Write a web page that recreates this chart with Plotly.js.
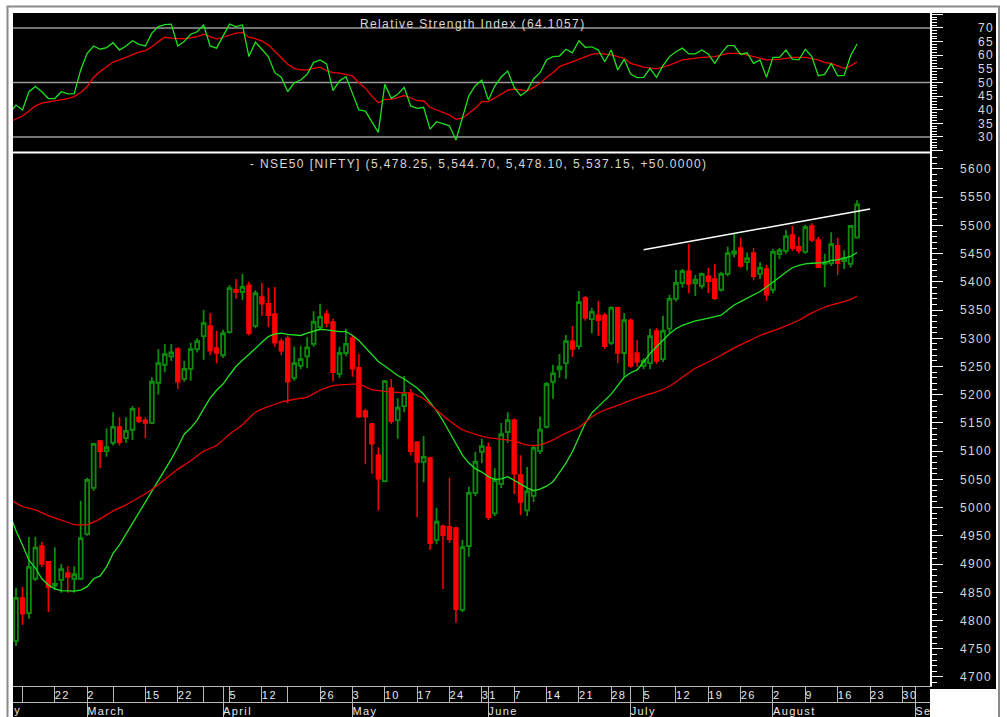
<!DOCTYPE html>
<html><head><meta charset="utf-8">
<script src="https://cdn.plot.ly/plotly-3.0.1.min.js"></script>
<style>
html,body{margin:0;padding:0;background:#fff;}
#chart{width:1007px;height:717px;}
.main-svg text{letter-spacing:1.4px;}
</style></head><body><div id="chart"></div>
<script>
// ---------- DATA ----------
const opens  = [4764,4840,4813,4874,4932,4904,4862,4872,4884,4874,4874,4953,5035,5118,5100,5115,5143,5123,5138,5160,5155,5150,5221,5253,5268,5281,5228,5246,5281,5304,5322,5283,5270,5311,5386,5382,5394,5322,5373,5361,5343,5295,5300,5230,5251,5268,5290,5320,5343,5329,5237,5274,5300,5248,5171,5148,5093,5047,5212,5155,5180,5203,5116,5081,5088,4943,4967,4966,4964,4819,4932,5026,5099,5107,4990,5042,5134,5155,5058,4995,5021,5100,5143,5223,5245,5256,5295,5286,5372,5334,5341,5341,5292,5354,5274,5332,5274,5251,5256,5313,5263,5317,5370,5398,5419,5398,5393,5410,5405,5386,5414,5450,5460,5435,5451,5414,5423,5386,5449,5455,5483,5462,5453,5499,5474,5432,5433,5464,5437,5432,5478.25];
const highs  = [4858,4860,4948,4948,4939,4905,4930,4900,4896,4896,5012,5053,5115,5120,5140,5169,5160,5160,5180,5178,5160,5231,5281,5290,5290,5284,5260,5292,5300,5350,5345,5313,5315,5394,5405,5414,5400,5385,5398,5390,5391,5300,5305,5285,5287,5302,5348,5361,5350,5335,5285,5317,5305,5272,5175,5150,5107,5226,5228,5194,5233,5210,5118,5127,5090,5000,4970,5053,4966,4943,5037,5099,5122,5115,5070,5150,5169,5158,5093,5072,5110,5161,5223,5253,5272,5306,5322,5384,5375,5354,5366,5345,5357,5356,5345,5335,5297,5265,5317,5318,5340,5377,5421,5423,5467,5412,5416,5425,5432,5418,5462,5487,5478,5452,5460,5435,5430,5458,5460,5492,5499,5480,5501,5504,5480,5450,5488,5478,5456,5500,5544.70];
const lows   = [4755,4792,4803,4870,4895,4815,4854,4849,4849,4849,4872,4950,5030,5070,5090,5110,5110,5115,5120,5150,5123,5148,5200,5240,5260,5210,5223,5225,5275,5262,5270,5256,5265,5308,5370,5368,5305,5318,5340,5320,5285,5270,5185,5225,5245,5247,5285,5315,5320,5223,5230,5268,5232,5159,5077,5060,4995,5045,5148,5122,5169,5093,4983,5045,4925,4935,4856,4938,4796,4815,4913,5020,5079,4978,4985,5035,5115,5024,4987,4985,5010,5095,5140,5193,5230,5228,5267,5280,5331,5309,5304,5281,5288,5256,5231,5248,5249,5245,5245,5255,5258,5310,5365,5390,5380,5375,5388,5380,5368,5383,5410,5443,5425,5420,5403,5405,5366,5380,5440,5450,5455,5450,5450,5470,5424,5391,5428,5412,5423,5425,5478.10];
const closes = [4840,4812,4895,4929,4900,4859,4865,4891,4877,4882,4946,5049,5113,5100,5107,5143,5116,5136,5175,5153,5150,5223,5256,5272,5275,5223,5246,5281,5295,5327,5278,5274,5309,5389,5382,5391,5309,5380,5361,5341,5292,5278,5223,5256,5263,5284,5329,5338,5327,5240,5274,5290,5246,5161,5161,5113,5051,5224,5153,5177,5201,5100,5081,5090,4937,4975,4951,4944,4820,4930,5026,5081,5109,4983,5049,5130,5155,5060,5010,5029,5106,5138,5219,5238,5250,5295,5281,5364,5336,5347,5332,5286,5354,5274,5332,5251,5258,5260,5304,5260,5313,5370,5398,5419,5396,5404,5414,5401,5371,5414,5451,5454,5428,5442,5410,5425,5377,5453,5456,5481,5460,5455,5497,5474,5426,5435,5467,5433,5442,5499,5537.15];

// 20-day average (green) from day -1 to the last day
const maFastStart = -1;
const maFast = [4990,4959,4934,4907,4893,4874,4863,4856,4853,4852,4852,4854,4860,4874,4879,4895,4919,4934,4953,4972,4991,5008,5028,5048,5067,5086,5107,5130,5141,5155,5175,5194,5208,5219,5235,5250,5261,5271,5282,5293,5303,5308,5309,5307,5306,5305,5309,5313,5316,5315,5313,5312,5312,5305,5296,5283,5270,5259,5251,5243,5234,5228,5220,5212,5201,5186,5172,5154,5134,5112,5093,5079,5069,5063,5055,5050,5051,5055,5048,5042,5035,5030,5033,5038,5046,5062,5079,5099,5123,5150,5168,5179,5190,5201,5216,5231,5239,5244,5258,5273,5285,5297,5308,5317,5323,5327,5331,5333,5336,5338,5341,5350,5359,5365,5371,5377,5383,5391,5399,5408,5417,5425,5429,5432,5433,5434,5434,5438,5439,5442,5445,5452];

// 50-day average (red), read at these days
const maSlowDays = [-1,1,3,5,7,9,11,13,15,17,19,21,23,25,27,29,31,33,35,37,39,41,43,45,47,49,51,53,55,57,59,61,63,65,67,69,71,73,75,77,79,81,83,85,87,89,91,93,95,97,99,101,103,105,107,109,111,113,115,117,119,121,123,125,127,129,130];
const maSlow = [5015,5002,4996,4986,4978,4970,4970,4980,4994,5005,5018,5032,5050,5068,5083,5100,5110,5130,5147,5169,5179,5187,5192,5196,5208,5216,5218,5219,5209,5206,5204,5203,5193,5173,5154,5138,5130,5124,5121,5118,5111,5111,5120,5132,5142,5161,5173,5181,5190,5198,5205,5215,5231,5247,5258,5270,5283,5294,5305,5313,5322,5332,5345,5355,5362,5369,5375];

// RSI (green) from day -1 to the last day
const rsiStart = -1;
const rsi = [38.7,41.7,39.9,46.6,48.5,46.6,44.1,44.1,46.6,45.8,45.9,54.6,60.7,63.4,62.2,62.8,64.6,61.9,63.4,65.3,64.0,63.4,68.1,70.5,71.2,71.4,63.4,65.0,67.7,68.6,71.1,63.4,62.6,66.8,71.4,70.5,71.1,59.5,64.8,62.2,59.5,53.6,51.9,46.6,49.9,50.9,53.0,57.4,58.3,56.8,47.0,50.6,52.1,46.0,39.9,39.5,35.6,31.7,49.3,44.2,45.7,48.2,41.4,40.5,40.9,32.9,35.6,34.8,34.1,28.9,36.9,45.2,48.8,50.9,43.6,48.7,52.0,54.2,48.2,45.2,46.9,51.3,53.6,58.3,59.5,59.7,62.2,60.9,65.3,62.9,63.1,61.9,57.6,61.9,54.6,58.5,53.1,51.8,51.9,55.2,51.9,56.2,59.5,61.3,62.6,60.5,60.5,61.9,60.5,57.0,60.7,63.5,63.5,60.3,60.9,57.0,58.3,51.9,59.2,59.2,61.9,58.6,58.3,62.2,59.5,52.5,53.0,57.0,52.4,52.6,59.8,64.1];

// RSI signal (red), read at these days
const rsiSigDays = [-1,1,2,3,4,5,6,7,8,9,10,11,12,13,14,15,16,17,18,19,20,21,22,23,24,26,27,28,29,30,31,32,33,34,35,36,37,38,39,40,41,42,43,44,45,46,47,48,49,50,52,53,54,55,56,57,58,59,60,61,62,63,64,65,66,67,68,69,70,71,72,73,75,76,77,78,79,80,81,82,83,84,87,89,90,92,94,95,97,99,101,103,106,108,110,112,114,116,118,120,122,124,125,126,127,128,129,130];
const rsiSig = [35.5,37.7,39.5,41.4,42.4,42.8,43.2,43.8,44.1,44.8,46.3,48.5,51.9,54.0,55.8,57.5,58.3,59.2,60.3,61.1,61.7,63.1,65.0,66.6,66.3,66.0,66.4,66.8,67.7,66.8,65.9,66.6,67.4,68.1,68.4,66.6,66.1,65.2,63.8,61.6,59.1,56.7,55.2,54.6,54.6,55.2,55.6,54.3,53.6,53.4,52.4,49.9,47.9,45.0,42.6,43.8,43.8,44.4,45.2,44.4,43.3,43.2,40.9,39.9,38.9,38.1,36.5,36.9,38.7,40.5,43.0,43.0,45.7,47.2,47.6,47.2,46.9,48.2,49.7,51.8,53.6,55.8,58.5,60.3,60.7,60.1,58.9,57.0,55.6,55.0,56.4,58.3,59.2,59.5,60.7,60.7,59.5,58.3,58.5,59.2,59.2,58.3,57.3,57.0,56.1,55.2,56.1,57.6];
const rsiLevels = [30, 50, 70];

// white trend line
const trendDays = [97, 132];
const trendPrices = [5457, 5529];

// date axis: week ticks and month starts (trading-day positions)
const weekDays = [1,6,11,15,20,25,29,32,33,38,42,47,52,57,62,67,72,73,77,82,87,92,95,97,102,107,112,117,122,127,132,137,139];
const weekLabels = ['','22','2','','15','22','','','5','12','','26','3','10','17','24','31','','7','14','21','28','','5','12','19','26','2','9','16','23','30',''];
const monthDays = [11,32,52,73,95,117,139];
const monthLabels = ['March','April','May','June','July','August','Se'];

const priceTicks = [4700,4750,4800,4850,4900,4950,5000,5050,5100,5150,5200,5250,5300,5350,5400,5450,5500,5550,5600];
const rsiTicks = [25,30,35,40,45,50,55,60,65,70,75];
const rsiTickText = ['','30','35','40','45','50','55','60','65','70',''];

const rsiTitle = 'Relative Strength Index (64.1057)';
const priceTitle = '- NSE50 [NIFTY] (5,478.25, 5,544.70, 5,478.10, 5,537.15, +50.0000)';

// ---------- LAYOUT HELPERS (pixel geometry) ----------
const L = 13, R = 930, T = 13, B = 702;
const px = x => (x - L) / (R - L);
const py = y => (B - y) / (B - T);
const xRange = [-0.464, 141.27];

const days = opens.map((_, i) => i);
const seq = (start, n) => Array.from({length: n}, (_, i) => start + i);

const FONT = 'Liberation Sans, Arial, sans-serif';
const tickFont = {family: FONT, size: 12, color: '#d6d6d6'};
const dateFont = {family: FONT, size: 11, color: '#e8e8e8'};

const traces = [
  {type: 'candlestick', x: days, open: opens, high: highs, low: lows, close: closes,
   xaxis: 'x', yaxis: 'y', hoverinfo: 'skip', whiskerwidth: 0,
   increasing: {line: {color: '#0b8c0b', width: 1.8}, fillcolor: 'rgba(0,0,0,0)'},
   decreasing: {line: {color: '#ff0000', width: 1.5}, fillcolor: '#ff0000'}},
  {type: 'scatter', mode: 'lines', x: seq(maFastStart, maFast.length), y: maFast,
   xaxis: 'x', yaxis: 'y', line: {color: '#22e022', width: 1.3}, hoverinfo: 'skip'},
  {type: 'scatter', mode: 'lines', x: maSlowDays, y: maSlow,
   xaxis: 'x', yaxis: 'y', line: {color: '#e80000', width: 1.3, shape: 'spline', smoothing: 0.6}, hoverinfo: 'skip'},
  {type: 'scatter', mode: 'lines', x: trendDays, y: trendPrices,
   xaxis: 'x', yaxis: 'y', line: {color: '#ffffff', width: 1.5}, hoverinfo: 'skip'},
  {type: 'scatter', mode: 'lines', x: rsiSigDays, y: rsiSig,
   xaxis: 'x2', yaxis: 'y2', line: {color: '#ee0000', width: 1.3}, hoverinfo: 'skip'},
  {type: 'scatter', mode: 'lines', x: seq(rsiStart, rsi.length), y: rsi,
   xaxis: 'x2', yaxis: 'y2', line: {color: '#1ee01e', width: 1.3}, hoverinfo: 'skip'}
];
// empty carriers so the date-label axes get drawn
['x3', 'x4', 'x5'].forEach(ax => traces.push({type: 'scatter', mode: 'markers', x: [null], y: [null],
  xaxis: ax, yaxis: 'y', hoverinfo: 'skip', marker: {opacity: 0}}));

const baseX = {range: xRange, autorange: false, showgrid: false, zeroline: false, fixedrange: true};

const shapes = [
  // outer frame
  {type: 'rect', xref: 'paper', yref: 'paper', x0: px(7.5), x1: px(999), y0: py(740), y1: py(6.5),
   line: {color: '#8a8a8a', width: 2}, fillcolor: 'rgba(0,0,0,0)', layer: 'below'},
  // black panel + date rows
  {type: 'rect', xref: 'paper', yref: 'paper', x0: 0, x1: 1, y0: py(717), y1: 1,
   line: {width: 0}, fillcolor: '#000', layer: 'below'},
  // black axis column
  {type: 'rect', xref: 'paper', yref: 'paper', x0: 1, x1: px(996), y0: py(689), y1: 1,
   line: {width: 0}, fillcolor: '#000', layer: 'below'},
  // separator between RSI and price panels
  {type: 'line', xref: 'paper', yref: 'paper', x0: 0, x1: 1, y0: py(152.5), y1: py(152.5),
   line: {color: '#ffffff', width: 2}}
].concat(rsiLevels.map(v => ({type: 'line', xref: 'paper', yref: 'y2', x0: 0, x1: 1, y0: v, y1: v,
   line: {color: '#9a9a9a', width: 1.5}, layer: 'below'})));

const layout = {
  width: 1007, height: 717,
  margin: {l: L, r: 1007 - R, t: T, b: 717 - B, pad: 0},
  paper_bgcolor: '#ffffff', plot_bgcolor: '#000000',
  showlegend: false,
  boxgap: 0.15,
  xaxis: Object.assign({}, baseX, {domain: [0, 1], anchor: 'y',
    showline: true, linecolor: '#b8b8b8', linewidth: 1,
    ticks: 'outside', ticklen: 16, tickwidth: 1, tickcolor: '#b8b8b8',
    tickmode: 'array', tickvals: weekDays, showticklabels: false,
    rangeslider: {visible: false}}),
  xaxis2: Object.assign({}, baseX, {domain: [0, 1], anchor: 'y2', matches: 'x',
    showline: false, ticks: '', showticklabels: false}),
  xaxis3: Object.assign({}, baseX, {overlaying: 'x', anchor: 'y', side: 'bottom',
    showline: false, ticks: '', tickmode: 'array', tickvals: weekDays, ticktext: weekLabels,
    ticklabelposition: 'outside right', tickfont: dateFont, ticklabelstandoff: 1}),
  xaxis4: Object.assign({}, baseX, {overlaying: 'x', anchor: 'free', position: 0, side: 'bottom',
    showline: true, linecolor: '#b8b8b8', linewidth: 1,
    ticks: 'outside', ticklen: 16, tickwidth: 1, tickcolor: '#b8b8b8',
    tickmode: 'array', tickvals: monthDays, showticklabels: false}),
  xaxis5: Object.assign({}, baseX, {overlaying: 'x', anchor: 'free', position: 0, side: 'bottom',
    showline: false, ticks: '', tickmode: 'array', tickvals: monthDays, ticktext: monthLabels,
    ticklabelposition: 'outside right', tickfont: dateFont, ticklabelstandoff: 1}),
  yaxis: {domain: [py(686), py(153)], anchor: 'x', side: 'right', range: [4684, 5628.3],
    showgrid: false, zeroline: false, fixedrange: true,
    showline: true, linecolor: '#ffffff', linewidth: 1.5,
    tickmode: 'array', tickvals: priceTicks,
    ticks: 'outside', ticklen: 11, tickwidth: 1, tickcolor: '#ffffff',
    minor: {ticks: 'outside', ticklen: 5, tickwidth: 1, tickcolor: '#ffffff', dtick: 10, tick0: 0, showgrid: false},
    tickfont: tickFont, ticklabelstandoff: 15},
  yaxis2: {domain: [py(152.5), 1], anchor: 'x2', side: 'right', range: [24.3, 75.5],
    showgrid: false, zeroline: false, fixedrange: true,
    showline: true, linecolor: '#ffffff', linewidth: 1.5,
    tickmode: 'array', tickvals: rsiTicks, ticktext: rsiTickText,
    ticks: 'outside', ticklen: 11, tickwidth: 1, tickcolor: '#ffffff',
    minor: {ticks: 'outside', ticklen: 5, tickwidth: 1, tickcolor: '#ffffff', dtick: 1, tick0: 0, showgrid: false},
    tickfont: tickFont, ticklabelstandoff: 33},
  shapes: shapes,
  annotations: [
    {xref: 'paper', yref: 'paper', x: px(472), y: py(24), text: rsiTitle, showarrow: false,
     xanchor: 'center', yanchor: 'middle', font: {family: FONT, size: 12, color: '#d8d8d8'}},
    {xref: 'paper', yref: 'paper', x: px(478), y: py(164), text: priceTitle, showarrow: false,
     xanchor: 'center', yanchor: 'middle', font: {family: FONT, size: 12, color: '#d8d8d8'}},
    {xref: 'paper', yref: 'paper', x: px(13), y: py(710), text: 'y', showarrow: false,
     xanchor: 'left', yanchor: 'middle', font: dateFont}
  ]
};

Plotly.newPlot('chart', traces, layout, {staticPlot: true, displayModeBar: false});
</script></body></html>
